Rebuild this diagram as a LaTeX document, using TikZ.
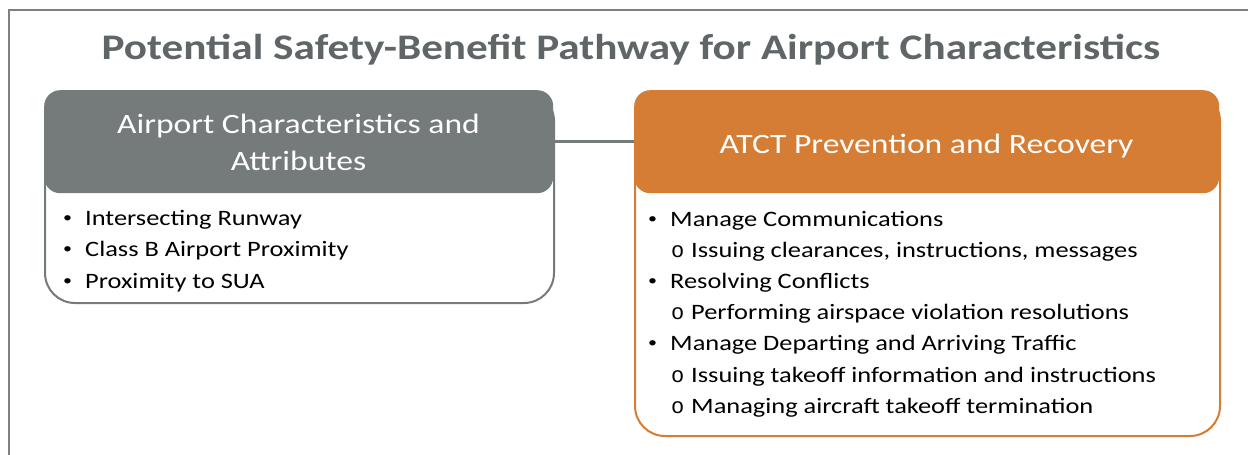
\documentclass[tikz,border=0pt]{standalone}
\usepackage{fontspec}
\setmainfont{Carlito}[FakeStretch=1.2]
\newfontfamily\ringfont{Liberation Mono}

\definecolor{slate}{RGB}{117,122,122}
\definecolor{amber}{RGB}{213,125,53}
\definecolor{titlegray}{RGB}{96,101,103}
\definecolor{framegray}{RGB}{128,128,128}

% list markers
\newcommand{\dotitem}{\makebox[22pt][l]{\raisebox{2.5pt}{\fontsize{15}{15}\selectfont\textbullet}}}
\newcommand{\ringitem}{\makebox[20pt][l]{\ringfont o}}

\tikzset{
  headbox/.style={fill=#1,draw=none,rounded corners=16pt,anchor=north west},
  headtext/.style={text=white,anchor=base,inner sep=0pt,font=\fontsize{28}{34}\selectfont},
  bodybox/.style={draw=#1,fill=white,line width=2pt,rounded corners=30pt,anchor=north west},
  listline/.style={anchor=base west,inner sep=0pt,font=\fontsize{22}{26}\selectfont},
  link/.style={draw=slate,line width=2.5pt},
}

\begin{document}
\begin{tikzpicture}[x=1pt,y=-1pt]
\useasboundingbox (0,0) rectangle (1248,455);
\draw[framegray,line width=2.5pt] (9,455) -- (9,10) -- (1250,10);
\node[anchor=base,inner sep=0pt,font=\bfseries\fontsize{36}{40}\selectfont,text=titlegray]
  (heading) at (631,59) {Potential Safety-Benefit Pathway for Airport Characteristics};
% left column
\node[bodybox=slate,minimum width=509pt,minimum height=212pt] (attrBody) at (44,90) {};
\node[headbox=slate,minimum width=509pt,minimum height=103pt] (attrHead) at (44,90) {};
\node[headtext] (attrTitleA) at (298.5,133) {Airport Characteristics and};
\node[headtext] (attrTitleB) at (298.5,170) {Attributes};
\foreach \y/\txt [count=\i] in {225/{\dotitem Intersecting Runway},
    256/{\dotitem Class B Airport Proximity},
    288/{\dotitem Proximity to SUA}}
  \node[listline] (attr\i) at (63,\y) {\txt};
% right column
\node[bodybox=amber,minimum width=585pt,minimum height=345pt] (atctBody) at (634,90) {};
\node[headbox=amber,minimum width=585pt,minimum height=103pt] (atctHead) at (634,90) {};
\node[headtext] (atctTitle) at (926.5,153) {ATCT Prevention and Recovery};
\foreach \x/\y/\txt [count=\i] in {648/226/{\dotitem Manage Communications},
    671/257/{\ringitem Issuing clearances, instructions, messages},
    648/288/{\dotitem Resolving Conflicts},
    671/319/{\ringitem Performing airspace violation resolutions},
    648/350/{\dotitem Manage Departing and Arriving Traffic},
    671/382/{\ringitem Issuing takeoff information and instructions},
    671/413/{\ringitem Managing aircraft takeoff termination}}
  \node[listline] (atct\i) at (\x,\y) {\txt};
\draw[link] (attrHead.east) -- (atctHead.west);
\end{tikzpicture}
\end{document}
